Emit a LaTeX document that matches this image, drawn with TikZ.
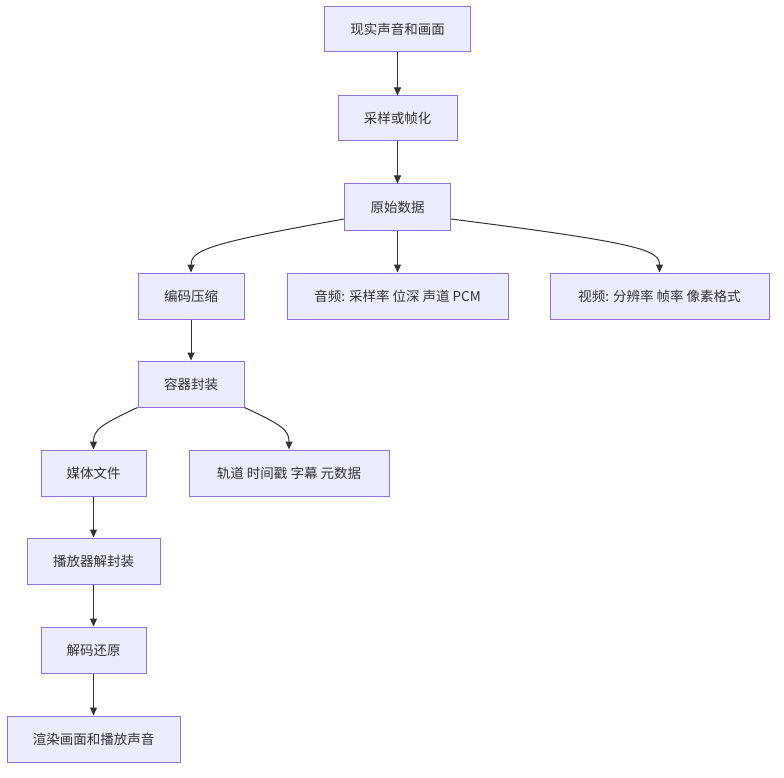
\documentclass[tikz,border=0pt]{standalone}
\usepackage{fontspec}
\setmainfont{Noto Sans CJK SC}
\usetikzlibrary{arrows.meta}
\definecolor{boxfill}{HTML}{ECECFF}
\definecolor{boxline}{HTML}{9370DB}
\definecolor{edge}{HTML}{333333}
\begin{document}
\begin{tikzpicture}[x=1pt,y=-1pt,
  box/.style={draw=boxline,fill=boxfill,line width=1pt,inner sep=0pt,
    text=edge,font=\fontsize{13.5}{16}\selectfont},
  arr/.style={draw=edge,line width=1pt,-{Triangle[length=8pt,width=7pt]}}]
\useasboundingbox (0,0) rectangle (784,778);
\fill[white] (0,0) rectangle (784,778);
\newcommand{\mybox}[6]{\node[box,minimum width=#4pt,minimum height=#5pt] (#1) at (#2,#3) {#6};}
\mybox{a}{397.5}{29.5}{146}{45}{现实声音和画面}
\mybox{b}{397.5}{118.5}{119}{45}{采样或帧化}
\mybox{c}{397.5}{207}{106}{46}{原始数据}
\mybox{d}{191}{296}{106}{46}{编码压缩}
\mybox{e}{397.5}{296}{221}{46}{音频: 采样率 位深 声道 PCM}
\mybox{f}{659.5}{296}{219}{46}{视频: 分辨率 帧率 像素格式}
\mybox{g}{191}{384}{106}{46}{容器封装}
\mybox{h}{93.5}{473}{105}{46}{媒体文件}
\mybox{i}{289}{473}{200}{46}{轨道 时间戳 字幕 元数据}
\mybox{j}{93.5}{561}{133}{46}{播放器解封装}
\mybox{k}{93.5}{650}{105}{46}{解码还原}
\mybox{l}{93.5}{739}{173}{46}{渲染画面和播放声音}
\draw[arr] (a) -- (b);
\draw[arr] (b) -- (c);
\draw[arr] (c) -- (e);
\draw[arr] (d) -- (g);
\draw[arr] (h) -- (j);
\draw[arr] (j) -- (k);
\draw[arr] (k) -- (l);
\draw[arr] (c.west |- 0,219) .. controls (210,243) and (191,250) .. (d.north);
\draw[arr] (c.east |- 0,219) .. controls (640,243) and (659.5,250) .. (f.north);
\draw[arr] (g.south west) .. controls (100,425) and (93.5,430) .. (h.north);
\draw[arr] (g.south east) .. controls (282,425) and (289,430) .. (i.north);
\end{tikzpicture}
\end{document}
